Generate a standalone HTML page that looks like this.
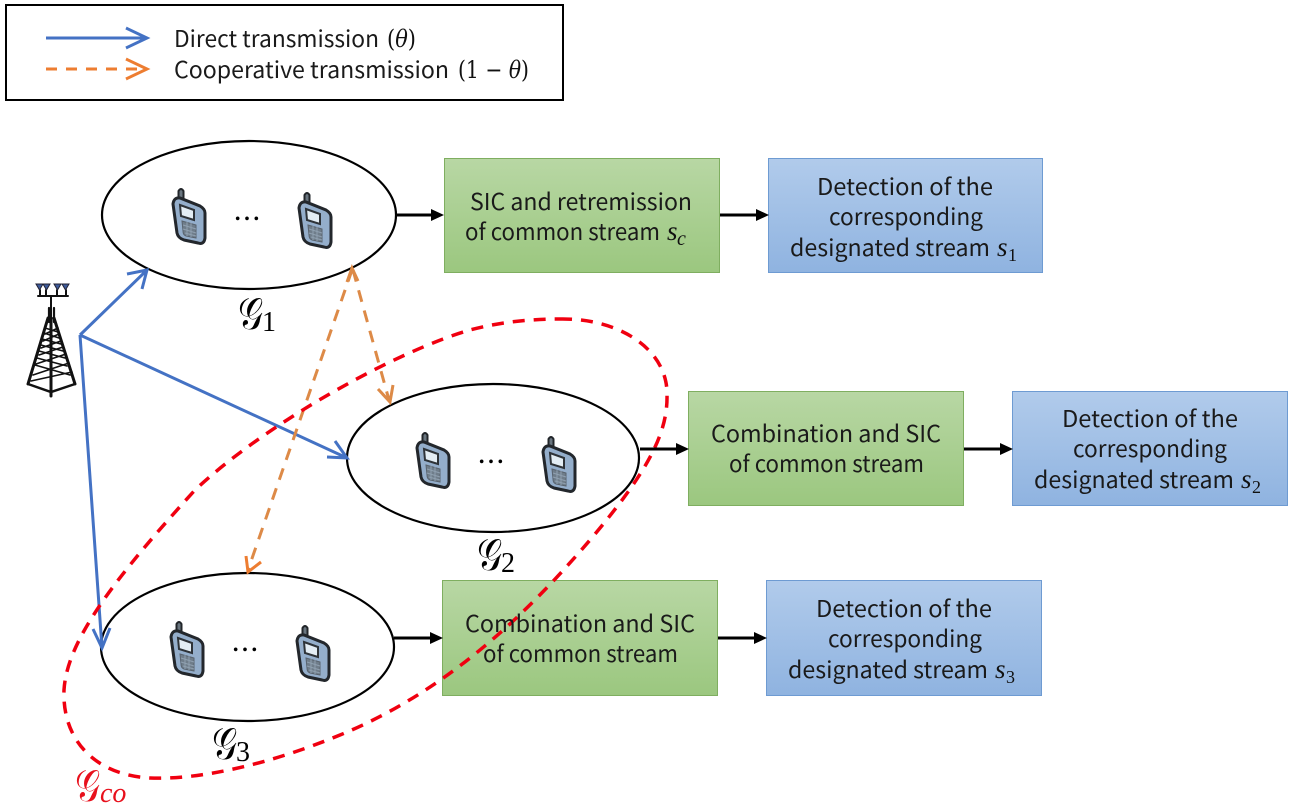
<!DOCTYPE html>
<html><head><meta charset="utf-8">
<style>html,body{margin:0;padding:0;background:#fff}svg{display:block}
text{font-family:"Noto Sans CJK SC","Liberation Sans",sans-serif;font-size:23px;fill:#1a1a1a}
.m{font-family:"DejaVu Serif","Liberation Serif",serif;font-size:24px;fill:#111}
.i{font-style:italic}
.s{font-family:"Liberation Serif",serif;font-style:italic;font-size:27px;fill:#111}
.sb{font-family:"Liberation Serif",serif;font-size:18px;fill:#111}
.sc{font-family:"Liberation Serif",serif;font-style:italic;font-size:20px;fill:#111}
.g{font-family:"DejaVu Serif","Liberation Serif",serif;font-size:44px;fill:#000}
.n{font-family:"Liberation Serif",serif;font-size:28px;fill:#000}
.d{font-size:28px;fill:#000}
</style></head><body>
<svg width="1291" height="809" viewBox="0 0 1291 809" xmlns="http://www.w3.org/2000/svg">
<defs>
<linearGradient id="gr" x1="0" y1="0" x2="0" y2="1"><stop offset="0" stop-color="#b8d7a4"/><stop offset="1" stop-color="#9bc77f"/></linearGradient>
<linearGradient id="bl" x1="0" y1="0" x2="0" y2="1"><stop offset="0" stop-color="#b1cbeb"/><stop offset="1" stop-color="#8fb3e0"/></linearGradient>
<g id="ph">
<path d="M-9.500-15 L-9.500-24 Q-7-28 -4.500-24 L-4.500-14Z" fill="#6a7680" stroke="#22262a" stroke-width="2"/>
<path d="M-15-11 Q-14-18 -8-17 L12-9 Q17-6 17-2 L17 23 Q16 30 10 28 L-4 25 Q-10 23 -11 18 Z" fill="#94aecb" stroke="#23272c" stroke-width="3"/>
<path d="M-8-10 L6-5 L6 5 L-7 1Z" fill="#e3edf4" stroke="#2e3338" stroke-width="2"/>
<path d="M-6 6 L8 10 L8 23 L-2 21 Q-5 20 -5 16Z" fill="#6f7d8a" stroke="#59636e" stroke-width="1"/>
<path d="M-5 10L8 14M-5 14L8 18M-3 18L8 21M-1 7V21M3 8V22" stroke="#8fa0b0" stroke-width="1"/>
</g>
<g id="tw" fill="none" stroke="#111" stroke-linecap="round">
<path d="M38 296H68M51 296V318M40 290V296M46 290V296M57 290V296M66 290V296" stroke-width="2"/>
<path d="M36 284h7l-3.500 6zM43 284h7l-3.500 6zM54 284h7l-3.500 6zM62 284h7l-3.500 6z" fill="#3d5a9a" stroke="#223" stroke-width="1"/>
<path d="M49 308V322M54 308V322" stroke-width="2.200"/>
<path d="M48 318L28 384M54 318L75 384M51 318V396" stroke-width="3"/>
<path d="M28 384L51 392L75 384" stroke-width="2.500"/>
<path d="M45 328L58 332M44 333L59 338M42 339L61 344M41 345L63 351M39 351L65 358M37 358L67 366M35 365L70 375M58 328L45 334M59 334L43 341M61 341L41 348M63 347L39 355M66 354L36 364M69 363L33 375M72 372L31 381" stroke-width="1.600"/>
</g>
</defs>

<rect x="6" y="5" width="557" height="95" fill="#fff" stroke="#000" stroke-width="2"/>
<path d="M46 38H146M126 28L147 38L126 48" fill="none" stroke="#4472c4" stroke-width="3"/>
<path d="M46 69H146" fill="none" stroke="#ed7d31" stroke-width="3" stroke-dasharray="11 9"/>
<path d="M126 59L147 69L126 79" fill="none" stroke="#ed7d31" stroke-width="3"/>
<text x="174" y="47" textLength="205" lengthAdjust="spacingAndGlyphs">Direct transmission</text>
<text x="387" y="47" class="m" textLength="29" lengthAdjust="spacingAndGlyphs">(<tspan class="i">θ</tspan>)</text>
<text x="174" y="78" textLength="275" lengthAdjust="spacingAndGlyphs">Cooperative transmission</text>
<text x="458" y="78" class="m" textLength="71" lengthAdjust="spacingAndGlyphs">(1 − <tspan class="i">θ</tspan>)</text>

<ellipse cx="249" cy="215" rx="147" ry="74" fill="#fff" stroke="#000" stroke-width="2.200"/>
<ellipse cx="493" cy="458" rx="146" ry="74" fill="#fff" stroke="#000" stroke-width="2.200"/>
<ellipse cx="247.500" cy="647" rx="146.500" ry="74" fill="#fff" stroke="#000" stroke-width="2.200"/>

<use href="#ph" x="188" y="215"/><use href="#ph" x="314" y="219"/>
<use href="#ph" x="432" y="459"/><use href="#ph" x="558" y="463"/>
<use href="#ph" x="186" y="648"/><use href="#ph" x="312" y="652"/>
<text x="233" y="229" class="d">…</text><text x="477" y="472" class="d">…</text><text x="231" y="660" class="d">…</text>

<use href="#tw"/>

<g fill="none" stroke="#4472c4" stroke-width="3">
<path d="M80 335L147 270M127 274L147 270L142 289"/>
<path d="M80 335L347 458M327 457L347 458L335 441"/>
<path d="M80 335L102 648M93 629L102 648L110 628"/>
</g>
<g fill="none" stroke="#dd8a47" stroke-width="3">
<path d="M353 270L389 400" stroke-dasharray="12 9"/>
<path d="M378 389L390 402L393 385M347 282L352 268L358 281"/>
<path d="M352 270L248 570" stroke-dasharray="12 9"/>
<path d="M246 556L248 572L261 562" stroke="#ed7d31"/>
</g>

<rect x="444.500" y="158.500" width="275" height="114" fill="url(#gr)" stroke="#7fae60"/>
<rect x="768.500" y="158.500" width="274" height="114" fill="url(#bl)" stroke="#6e9bd2"/>
<rect x="688.500" y="391.500" width="275" height="114" fill="url(#gr)" stroke="#7fae60"/>
<rect x="1012.500" y="391.500" width="275" height="114" fill="url(#bl)" stroke="#6e9bd2"/>
<rect x="442.500" y="580.500" width="275" height="115" fill="url(#gr)" stroke="#7fae60"/>
<rect x="766.500" y="580.500" width="275" height="115" fill="url(#bl)" stroke="#6e9bd2"/>

<path d="M560 319 C620 318 668 350 667 395 C668 435 645 475 590 540 C530 610 450 690 340 735 C270 764 200 780 150 778 C95 775 62 740 64 690 C67 640 115 578 195 490 C270 420 400 350 470 330 C500 322 530 319 560 319Z" fill="none" stroke="#f00010" stroke-width="3.500" stroke-dasharray="12 9"/>

<g stroke="#000" stroke-width="3" fill="none">
<path d="M396 215H434"/><path d="M720 215H758"/>
<path d="M640 449H678"/><path d="M964 449H1002"/>
<path d="M394 638H432"/><path d="M718 638H756"/>
</g>
<g fill="#000">
<path d="M444 215L431 209V221Z"/><path d="M769 215L756 209V221Z"/>
<path d="M689 449L676 443V455Z"/><path d="M1013 449L1000 443V455Z"/>
<path d="M443 638L430 632V644Z"/><path d="M767 638L754 632V644Z"/>
</g>

<text x="470" y="210" textLength="222" lengthAdjust="spacingAndGlyphs">SIC and retremission</text>
<text x="465" y="240" textLength="195" lengthAdjust="spacingAndGlyphs">of common stream</text>
<text x="667" y="240" class="s">s</text><text x="677" y="245" class="sc">c</text>

<text x="817" y="195" textLength="176" lengthAdjust="spacingAndGlyphs">Detection of the</text>
<text x="829" y="225" textLength="154" lengthAdjust="spacingAndGlyphs">corresponding</text>
<text x="790" y="256" textLength="200" lengthAdjust="spacingAndGlyphs">designated stream</text>
<text x="997" y="256" class="s">s</text><text x="1008" y="261" class="sb">1</text>

<text x="711" y="442" textLength="230" lengthAdjust="spacingAndGlyphs">Combination and SIC</text>
<text x="729" y="472" textLength="195" lengthAdjust="spacingAndGlyphs">of common stream</text>

<text x="1062" y="427" textLength="176" lengthAdjust="spacingAndGlyphs">Detection of the</text>
<text x="1073" y="457" textLength="154" lengthAdjust="spacingAndGlyphs">corresponding</text>
<text x="1034" y="488" textLength="200" lengthAdjust="spacingAndGlyphs">designated stream</text>
<text x="1241" y="488" class="s">s</text><text x="1252" y="493" class="sb">2</text>

<text x="465" y="632" textLength="230" lengthAdjust="spacingAndGlyphs">Combination and SIC</text>
<text x="483" y="662" textLength="195" lengthAdjust="spacingAndGlyphs">of common stream</text>

<text x="816" y="617" textLength="176" lengthAdjust="spacingAndGlyphs">Detection of the</text>
<text x="828" y="647" textLength="154" lengthAdjust="spacingAndGlyphs">corresponding</text>
<text x="788" y="678" textLength="200" lengthAdjust="spacingAndGlyphs">designated stream</text>
<text x="995" y="678" class="s">s</text><text x="1006" y="683" class="sb">3</text>

<text x="238" y="329" class="g" textLength="25" lengthAdjust="spacingAndGlyphs">𝒢</text><text x="262" y="331" class="n">1</text>
<text x="477" y="570" class="g" textLength="25" lengthAdjust="spacingAndGlyphs">𝒢</text><text x="501" y="572" class="n">2</text>
<text x="212" y="759" class="g" textLength="25" lengthAdjust="spacingAndGlyphs">𝒢</text><text x="236" y="761" class="n">3</text>
<text x="75" y="801" class="g" style="fill:#e8101c" textLength="25" lengthAdjust="spacingAndGlyphs">𝒢</text><text x="100" y="802" class="n" style="font-style:italic;fill:#e8101c">co</text>
</svg>
</body></html>
